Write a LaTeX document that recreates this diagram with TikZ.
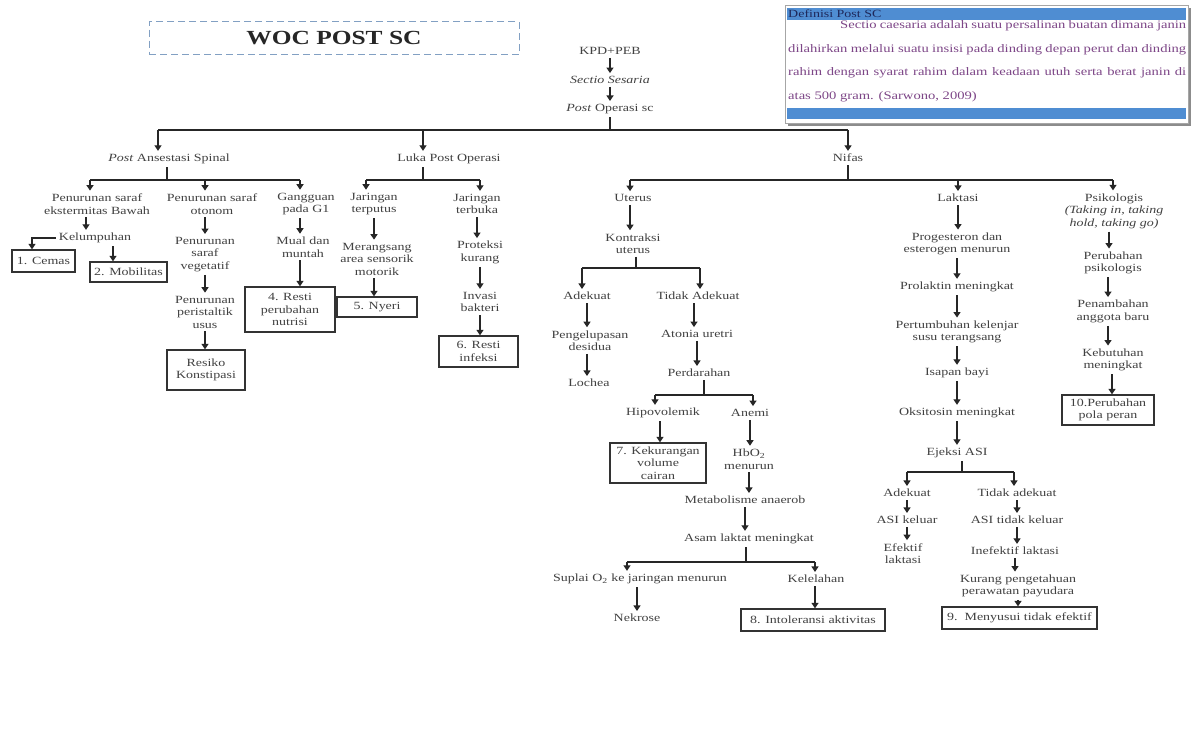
\documentclass[tikz,border=0pt]{standalone}
\usepackage{fontspec}
\setmainfont[FakeStretch=1.27]{Liberation Serif}
\usetikzlibrary{arrows.meta}
\definecolor{txtc}{RGB}{65,65,65}
\definecolor{defpurple}{RGB}{125,70,135}
\definecolor{barblue}{RGB}{79,141,210}
\definecolor{navyc}{RGB}{30,40,90}
\definecolor{dashc}{RGB}{130,160,195}
\begin{document}
\begin{tikzpicture}[x=1pt,y=-1pt,
  tx/.style={font=\fontsize{11}{12.5}\selectfont, align=center, inner sep=3pt, text=txtc},
  dbox/.style={draw=black!80, line width=1.3pt, font=\fontsize{11}{12.5}\selectfont, align=center, inner sep=1pt, text=txtc},
  arr/.style={draw=black!85, line width=1.2pt, -{Triangle[width=7pt,length=5.5pt]}},
  ln/.style={draw=black!85, line width=1.2pt},
  deftxt/.style={font=\fontsize{11.5}{13}\selectfont, text=defpurple, inner sep=0pt, anchor=west}
]
\useasboundingbox[fill=white] (0,0) rectangle (1193,740);

% title
\node[draw=dashc, dash pattern=on 7pt off 4pt, line width=1pt, minimum width=370pt, minimum height=33pt, font=\bfseries\fontsize{20}{24}\selectfont, text=black!85] (title) at (334,38) {WOC POST SC};

% definition box
\fill[black!45] (788,8) rectangle (1191,126);
\draw[fill=white, draw=black!35, line width=0.8pt] (785,5) rectangle (1188,123);
\fill[barblue] (787,8) rectangle (1186,20);
\fill[barblue] (787,108) rectangle (1186,119);
\node[deftxt, text=navyc, font=\fontsize{11}{13}\selectfont] (defh) at (788,14) {Definisi Post SC};
\node[deftxt] (d1) at (840,26) {\makebox[346pt][s]{Sectio caesaria adalah suatu persalinan buatan dimana janin}};
\node[deftxt] (d2) at (788,50) {\makebox[398pt][s]{dilahirkan melalui suatu insisi pada dinding depan perut dan dinding}};
\node[deftxt] (d3) at (788,73) {\makebox[398pt][s]{rahim dengan syarat rahim dalam keadaan utuh serta berat janin di}};
\node[deftxt] (d4) at (788,97) {atas 500 gram. (Sarwono, 2009)};

% top chain
\node[tx] (kpd) at (610,51) {KPD+PEB};
\node[tx] (sectio) at (610,80) {\textit{Sectio Sesaria}};
\node[tx] (postop) at (610,109) {\textit{Post} Operasi sc};
\draw[arr] (kpd.south) -- (sectio.north);
\draw[arr] (sectio.south) -- (postop.north);

\coordinate (mb) at (610,130);
\coordinate (m1) at (158,130);
\coordinate (m2) at (423,130);
\coordinate (m3) at (848,130);
\draw[ln] (postop.south) -- (mb);
\draw[ln] (m1) -- (m3);
\node[tx] (pas) at (169,159) {\textit{Post} Ansestasi Spinal};
\node[tx] (luka) at (449,159) {Luka Post Operasi};
\node[tx] (nifas) at (848,158) {Nifas};
\draw[arr] (m1) -- (m1 |- pas.north);
\draw[arr] (m2) -- (m2 |- luka.north);
\draw[arr] (m3) -- (nifas.north);

% Post Ansestasi branch
\coordinate (pa0) at (167,180);
\coordinate (pa1) at (90,180);
\coordinate (pa2) at (205,180);
\coordinate (pa3) at (300,180);
\draw[ln] (pa0 |- pas.south) -- (pa0);
\draw[ln] (pa1) -- (pa3);
\node[tx] (c11) at (97,204) {Penurunan saraf\\ekstermitas Bawah};
\node[tx] (c12) at (212,204) {Penurunan saraf\\otonom};
\node[tx] (c13) at (306,204) {Gangguan\\pada G1};
\draw[arr] (pa1) -- (pa1 |- c11.north);
\draw[arr] (pa2) -- (pa2 |- c12.north);
\draw[arr] (pa3) -- (pa3 |- c13.north);

\node[tx] (kel) at (95,238) {Kelumpuhan};
\draw[arr] ([xshift=-11pt]c11.south) -- ([xshift=-11pt]c11.south |- kel.north);
\node[dbox, minimum width=63pt, minimum height=22pt] (cemas) at (43.5,261) {1. Cemas};
\draw[arr] (kel.west) -| ([xshift=-11.5pt]cemas.north);
\node[dbox, minimum width=77pt, minimum height=20pt] (mob) at (128.5,272) {2. Mobilitas};
\draw[arr] ([xshift=18pt]kel.south) -- ([xshift=18pt]kel.south |- mob.north);

\node[tx] (veg) at (205,254.5) {Penurunan\\saraf\\vegetatif};
\draw[arr] (c12.south -| pa2) -- (pa2 |- veg.north);
\node[tx] (peri) at (205,312) {Penurunan\\peristaltik\\usus};
\draw[arr] (veg.south) -- (peri.north);
\node[dbox, minimum width=78pt, minimum height=40pt] (konst) at (206,370) {Resiko\\Konstipasi};
\draw[arr] (peri.south) -- (peri.south |- konst.north);

\node[tx] (mual) at (303,247) {Mual dan\\muntah};
\draw[arr] (c13.south -| pa3) -- (pa3 |- mual.north);
\node[dbox, minimum width=90pt, minimum height=45pt] (nutr) at (290,309.5) {4. Resti\\perubahan\\nutrisi};
\draw[arr] (mual.south -| pa3) -- (pa3 |- nutr.north);

% Luka branch
\coordinate (lb0) at (423,180);
\coordinate (lb1) at (366,180);
\coordinate (lb2) at (480,180);
\draw[ln] (lb0 |- luka.south) -- (lb0);
\draw[ln] (lb1) -- (lb2);
\node[tx] (c21) at (374,204) {Jaringan\\terputus};
\node[tx] (c22) at (477,204) {Jaringan\\terbuka};
\draw[arr] (lb1) -- (lb1 |- c21.north);
\draw[arr] (lb2) -- (lb2 |- c22.north);
\node[tx] (mer) at (377,259) {Merangsang\\area sensorik\\motorik};
\draw[arr] (c21.south) -- (c21.south |- mer.north);
\node[dbox, minimum width=80pt, minimum height=20pt] (nyeri) at (377,307) {5. Nyeri};
\draw[arr] (mer.south -| c21) -- (c21 |- nyeri.north);
\node[tx] (prot) at (480,252.5) {Proteksi\\kurang};
\draw[arr] (c22.south) -- (c22.south |- prot.north);
\node[tx] (inv) at (480,302) {Invasi\\bakteri};
\draw[arr] (prot.south) -- (inv.north);
\node[dbox, minimum width=79pt, minimum height=31pt] (resti6) at (478.5,351.5) {6. Resti\\infeksi};
\draw[arr] (inv.south) -- (inv.south |- resti6.north);

% Nifas branch
\coordinate (nb0) at (848,180);
\coordinate (nb1) at (630,180);
\coordinate (nb2) at (958,180);
\coordinate (nb3) at (1113,180);
\draw[ln] (nifas.south) -- (nb0);
\draw[ln] (nb1) -- (nb3);
\node[tx] (uterus) at (633,198) {Uterus};
\node[tx] (laktasi) at (958,198) {Laktasi};
\node[tx] (psiko) at (1114,211) {Psikologis\\\textit{(Taking in, taking}\\\textit{hold, taking go)}};
\draw[arr] (nb1) -- (nb1 |- uterus.north);
\draw[arr] (nb2) -- (nb2 |- laktasi.north);
\draw[arr] (nb3) -- (nb3 |- psiko.north);

% Uterus
\node[tx] (kontr) at (633,243.5) {Kontraksi\\uterus};
\draw[arr] (uterus.south -| nb1) -- (nb1 |- kontr.north);
\coordinate (ub0) at (636,268);
\coordinate (ub1) at (582,268);
\coordinate (ub2) at (700,268);
\draw[ln] (ub0 |- kontr.south) -- (ub0);
\draw[ln] (ub1) -- (ub2);
\node[tx] (adek1) at (587,296) {Adekuat};
\node[tx] (tidak1) at (698,296) {Tidak Adekuat};
\draw[arr] (ub1) -- (ub1 |- adek1.north);
\draw[arr] (ub2) -- (ub2 |- tidak1.north);
\node[tx] (pengel) at (590,340.5) {Pengelupasan\\desidua};
\draw[arr] (adek1.south) -- (adek1.south |- pengel.north);
\node[tx] (lochea) at (589,383) {Lochea};
\draw[arr] (pengel.south -| adek1) -- (adek1 |- lochea.north);
\node[tx] (atonia) at (697,334) {Atonia uretri};
\draw[arr] ([xshift=-4pt]tidak1.south) -- ([xshift=-4pt]tidak1.south |- atonia.north);
\node[tx] (perd) at (699,373) {Perdarahan};
\draw[arr] (atonia.south) -- (atonia.south |- perd.north);
\coordinate (pb0) at (704,395);
\coordinate (pb1) at (655,395);
\coordinate (pb2) at (753,395);
\draw[ln] (pb0 |- perd.south) -- (pb0);
\draw[ln] (pb1) -- (pb2);
\node[tx] (hipo) at (663,413) {Hipovolemik};
\node[tx] (anemi) at (750,413) {Anemi};
\draw[arr] (pb1) -- (pb1 |- hipo.north);
\draw[arr] (pb2) -- (pb2 |- anemi.north);
\node[dbox, minimum width=96pt, minimum height=40pt] (box7) at (658,463) {7. Kekurangan\\volume\\cairan};
\draw[arr] ([xshift=-3pt]hipo.south) -- ([xshift=-3pt]hipo.south |- box7.north);
\node[tx] (hbo) at (749,459) {HbO\textsubscript{2}\\menurun};
\draw[arr] (anemi.south) -- (anemi.south |- hbo.north);
\node[tx] (metab) at (745,500) {Metabolisme anaerob};
\draw[arr] (hbo.south) -- (hbo.south |- metab.north);
\node[tx] (asam) at (749,539) {Asam laktat meningkat};
\draw[arr] (metab.south) -- (metab.south |- asam.north);
\coordinate (ab0) at (746,562);
\coordinate (ab1) at (627,562);
\coordinate (ab2) at (815,562);
\draw[ln] (ab0 |- asam.south) -- (ab0);
\draw[ln] (ab1) -- (ab2);
\node[tx] (suplai) at (640,579) {Suplai O\textsubscript{2} ke jaringan menurun};
\node[tx] (kelel) at (816,579) {Kelelahan};
\draw[arr] (ab1) -- (ab1 |- suplai.north);
\draw[arr] (ab2) -- (ab2 |- kelel.north);
\node[tx] (nekrose) at (637,618) {Nekrose};
\draw[arr] (suplai.south -| nekrose) -- (nekrose.north);
\node[dbox, minimum width=144pt, minimum height=22pt] (box8) at (813,620) {8. Intoleransi aktivitas};
\draw[arr] (kelel.south -| ab2) -- (ab2 |- box8.north);

% Laktasi
\node[tx] (prog) at (957,244) {Progesteron dan\\esterogen menurun};
\node[tx] (prolak) at (957,287) {Prolaktin meningkat};
\node[tx] (pertum) at (957,332) {Pertumbuhan kelenjar\\susu terangsang};
\node[tx] (isapan) at (957,373) {Isapan bayi};
\node[tx] (oksi) at (957,413) {Oksitosin meningkat};
\node[tx] (ejeksi) at (957,453) {Ejeksi ASI};
\draw[arr] (laktasi.south) -- (laktasi.south |- prog.north);
\draw[arr] (prog.south) -- (prog.south |- prolak.north);
\draw[arr] (prolak.south) -- (prolak.south |- pertum.north);
\draw[arr] (pertum.south) -- (pertum.south |- isapan.north);
\draw[arr] (isapan.south) -- (isapan.south |- oksi.north);
\draw[arr] (oksi.south) -- (oksi.south |- ejeksi.north);
\coordinate (eb0) at (962,472);
\coordinate (eb1) at (907,472);
\coordinate (eb2) at (1014,472);
\draw[ln] (eb0 |- ejeksi.south) -- (eb0);
\draw[ln] (eb1) -- (eb2);
\node[tx] (adek2) at (907,493) {Adekuat};
\node[tx] (tidak2) at (1017,493) {Tidak adekuat};
\draw[arr] (eb1) -- (eb1 |- adek2.north);
\draw[arr] (eb2) -- (eb2 |- tidak2.north);
\node[tx] (asik) at (907,520) {ASI keluar};
\draw[arr] (adek2.south) -- (adek2.south |- asik.north);
\node[tx] (efek) at (903,553.5) {Efektif\\laktasi};
\draw[arr] (asik.south) -- (asik.south |- efek.north);
\node[tx] (asitk) at (1017,520) {ASI tidak keluar};
\draw[arr] (tidak2.south) -- (tidak2.south |- asitk.north);
\node[tx] (inef) at (1015,551) {Inefektif laktasi};
\draw[arr] (asitk.south) -- (asitk.south |- inef.north);
\node[tx] (kurang) at (1018,586) {Kurang pengetahuan\\perawatan payudara};
\draw[arr] (inef.south) -- (inef.south |- kurang.north);
\node[dbox, minimum width=155pt, minimum height=22pt] (box9) at (1019.5,618) {9.\ \ Menyusui tidak efektif};
\draw[arr] (kurang.south) -- (kurang.south |- box9.north);

% Psikologis
\node[tx] (perub) at (1113,263) {Perubahan\\psikologis};
\node[tx] (penamb) at (1113,311.5) {Penambahan\\anggota baru};
\node[tx] (kebut) at (1113,360) {Kebutuhan\\meningkat};
\node[dbox, minimum width=92pt, minimum height=30pt] (box10) at (1108,410) {10.Perubahan\\pola peran};
\draw[arr] ([xshift=-5pt]psiko.south) -- ([xshift=-5pt]psiko.south |- perub.north);
\draw[arr] ([xshift=-5pt]perub.south) -- ([xshift=-5pt]perub.south |- penamb.north);
\draw[arr] ([xshift=-5pt]penamb.south) -- ([xshift=-5pt]penamb.south |- kebut.north);
\draw[arr] ([xshift=-1pt]kebut.south) -- ([xshift=-1pt]kebut.south |- box10.north);
\end{tikzpicture}
\end{document}
